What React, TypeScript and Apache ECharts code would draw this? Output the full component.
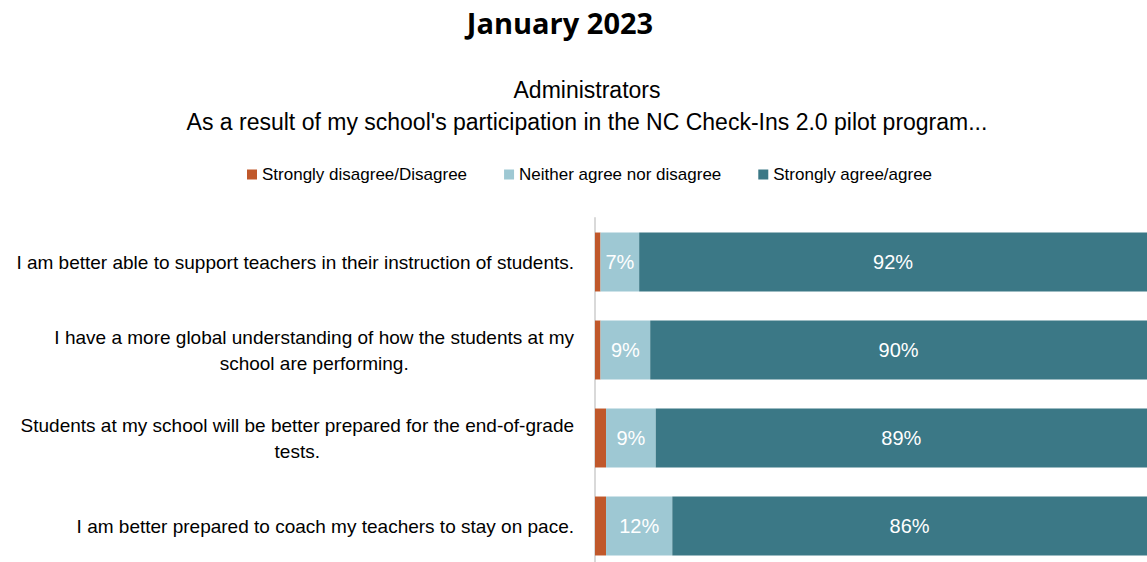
import React, { useEffect, useRef } from "react";
import * as echarts from "echarts";

const categories = [
  "I am better able to support teachers in their instruction of students.",
  "I have a more global understanding of how the students at my\nschool are performing.",
  "Students at my school will be better prepared for the end-of-grade\ntests.",
  "I am better prepared to coach my teachers to stay on pace.",
];
const disagree = [1, 1, 2, 2];
const neither = [7, 9, 9, 12];
const agree = [92, 90, 89, 86];
const seriesNames = ["Strongly disagree/Disagree", "Neither agree nor disagree", "Strongly agree/agree"];
const colors = ["#c0582b", "#9ec8d3", "#3b7886"];

const SANS = "'Liberation Sans', Arial, sans-serif";

export default function App() {
  const ref = useRef<HTMLDivElement>(null);
  useEffect(() => {
    document.body.style.margin = "0";
    const chart = echarts.init(ref.current!, null, { renderer: "svg" });
    const labelFor = (show: boolean) => ({
      show,
      position: "inside" as const,
      color: "#ffffff",
      fontFamily: SANS,
      fontSize: 20,
      formatter: (p: any) => `${p.value}%`,
    });
    chart.setOption({
      animation: false,
      backgroundColor: "#ffffff",
      graphic: [
        {
          type: "text",
          x: 560,
          y: 22,
          style: {
            text: "January 2023",
            textAlign: "center",
            textVerticalAlign: "middle",
            font: "bold 29px 'Open Sans', sans-serif",
            fill: "#000000",
          },
        },
        {
          type: "text",
          x: 587,
          y: 90,
          style: {
            text: "Administrators",
            textAlign: "center",
            textVerticalAlign: "middle",
            font: `23px ${SANS}`,
            fill: "#000000",
          },
        },
        {
          type: "text",
          x: 587,
          y: 122,
          style: {
            text: "As a result of my school's participation in the NC Check-Ins 2.0 pilot program...",
            textAlign: "center",
            textVerticalAlign: "middle",
            font: `23px ${SANS}`,
            fill: "#000000",
          },
        },
      ],
      legend: {
        left: 242,
        top: 161,
        itemWidth: 10,
        itemHeight: 10,
        itemGap: 37,
        icon: "rect",
        textStyle: { fontFamily: SANS, fontSize: 17, color: "#000000" },
        data: seriesNames,
      },
      grid: { left: 595, right: 0, top: 218, height: 352, containLabel: false, outerBoundsMode: "none" },
      xAxis: {
        type: "value",
        min: 0,
        max: 100,
        show: false,
      },
      yAxis: {
        type: "category",
        inverse: true,
        data: categories,
        axisLine: { show: true, lineStyle: { color: "#d9d9d9", width: 2 } },
        axisTick: { show: false },
        axisLabel: {
          margin: 21,
          formatter: (v: string) => v.split("\n").map((l) => `{c|${l}}`).join("\n"),
          rich: {
            c: { align: "center", fontFamily: SANS, fontSize: 19, color: "#000000", lineHeight: 26 },
          },
        },
      },
      series: [
        { name: seriesNames[0], type: "bar", stack: "s", data: disagree, barCategoryGap: "33%", itemStyle: { color: colors[0] }, label: labelFor(false) },
        { name: seriesNames[1], type: "bar", stack: "s", data: neither, itemStyle: { color: colors[1] }, label: labelFor(true) },
        { name: seriesNames[2], type: "bar", stack: "s", data: agree, itemStyle: { color: colors[2] }, label: labelFor(true) },
      ],
    });
    return () => chart.dispose();
  }, []);
  return <div ref={ref} style={{ width: 1147, height: 562 }} />;
}
